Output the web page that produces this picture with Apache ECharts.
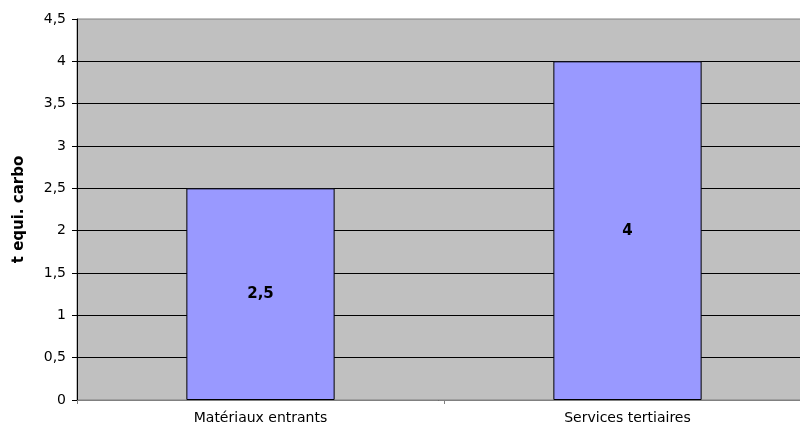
<!DOCTYPE html>
<html>
<head>
<meta charset="utf-8">
<script src="https://cdn.jsdelivr.net/npm/echarts@6/dist/echarts.min.js"></script>
<style>
  html, body { margin: 0; padding: 0; background: #fff; }
  #chart { width: 800px; height: 427px; }
</style>
</head>
<body>
<div id="chart"></div>
<script>
// data
const categories = ["Matériaux entrants", "Services tertiaires"];
const values = [2.5, 4];
const yTicks = { min: 0, max: 4.5, interval: 0.5 };

const fr = (v) => String(v).replace(".", ",");

const myChart = echarts.init(document.getElementById("chart"));
const option = {
  animation: false,
  textStyle: { fontFamily: "DejaVu Sans, sans-serif" },
  grid: {
    left: 77,
    top: 19,
    width: 734,
    height: 381,
    outerBoundsMode: "none",
    containLabel: false,
    show: true,
    backgroundColor: "#c0c0c0",
    borderColor: "#808080",
    borderWidth: 1,
  },
  xAxis: {
    type: "category",
    data: categories,
    axisLine: { lineStyle: { color: "#808080", width: 1 } },
    axisTick: { show: true, length: 4, lineStyle: { color: "#808080" } },
    axisLabel: { color: "#000", fontSize: 14, margin: 11 },
  },
  yAxis: {
    type: "value",
    min: yTicks.min,
    max: yTicks.max,
    interval: yTicks.interval,
    name: "t equi. carbo",
    nameLocation: "middle",
    nameGap: 50,
    nameRotate: 90,
    nameTextStyle: { color: "#000", fontSize: 15, fontWeight: "bold" },
    axisLine: { show: true, lineStyle: { color: "#000", width: 1 } },
    axisTick: { show: true, length: 5, lineStyle: { color: "#000" } },
    axisLabel: { color: "#000", fontSize: 14, margin: 11, formatter: (v) => fr(v) },
    splitLine: { showMaxLine: false, lineStyle: { color: "#000", width: 1 } },
  },
  series: [
    {
      type: "bar",
      data: values,
      barWidth: "40.4%",
      itemStyle: { color: "#9999ff", borderColor: "#000", borderWidth: 1 },
      label: {
        show: true,
        position: "inside",
        color: "#000",
        fontSize: 15,
        fontWeight: "bold",
        formatter: (p) => fr(p.value),
      },
    },
  ],
};
myChart.setOption(option);
</script>
</body>
</html>
